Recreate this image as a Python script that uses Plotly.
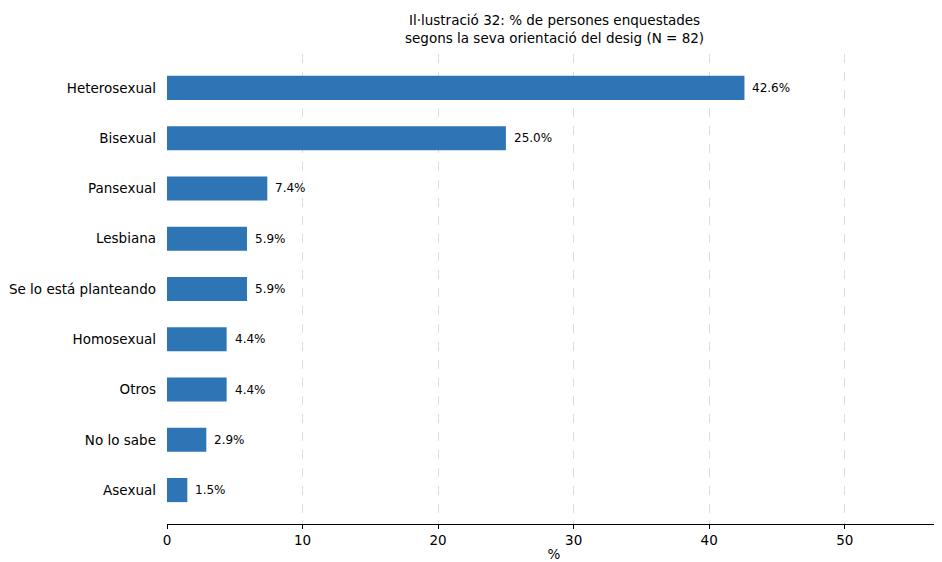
import plotly.graph_objects as go

categories = ["Heterosexual", "Bisexual", "Pansexual", "Lesbiana", "Se lo está planteando",
              "Homosexual", "Otros", "No lo sabe", "Asexual"]
values = [42.6, 25.0, 7.4, 5.9, 5.9, 4.4, 4.4, 2.9, 1.5]

cats = categories[::-1]
vals = values[::-1]

fig = go.Figure()
fig.add_trace(go.Bar(
    y=list(range(len(cats))), x=vals, orientation="h", width=0.48,
    marker=dict(color="#2E75B6", line=dict(width=0)),
))
for i, v in enumerate(vals):
    fig.add_annotation(x=v, y=i, xref="x", yref="y", text=f"{v:.1f}%",
                       showarrow=False, xanchor="left", yanchor="middle", xshift=6,
                       font=dict(family="DejaVu Sans", size=12, color="#000"))
fig.add_annotation(x=0.5, y=1, xref="paper", yref="paper", yanchor="bottom", yshift=6,
                   text="Il·lustració 32: % de persones enquestades<br>segons la seva orientació del desig (N = 82)",
                   showarrow=False, font=dict(size=13.5, family="DejaVu Sans", color="#000"))
fig.update_layout(
    width=934, height=554,
    margin=dict(l=159, r=1, t=46, b=38),
    plot_bgcolor="white", paper_bgcolor="white",
    font=dict(family="DejaVu Sans", color="#000"),
    showlegend=False,
    xaxis=dict(range=[0, 57.1], tickvals=[0, 10, 20, 30, 40, 50], showgrid=True,
               gridcolor="#dddddd", griddash="dash", gridwidth=1, zeroline=False,
               showline=True, linecolor="#000", linewidth=1, ticks="outside",
               ticklen=4, tickcolor="#000", tickfont=dict(size=13.5), automargin=False,
               title=dict(text="%", font=dict(size=13.5), standoff=4)),
    yaxis=dict(range=[-0.675, 8.675], tickvals=list(range(len(cats))), ticktext=cats,
               showgrid=False, zeroline=False, showline=False, ticks="",
               tickfont=dict(size=13.5), ticklabelstandoff=10, automargin=False),
)
fig.write_html("out.html")
